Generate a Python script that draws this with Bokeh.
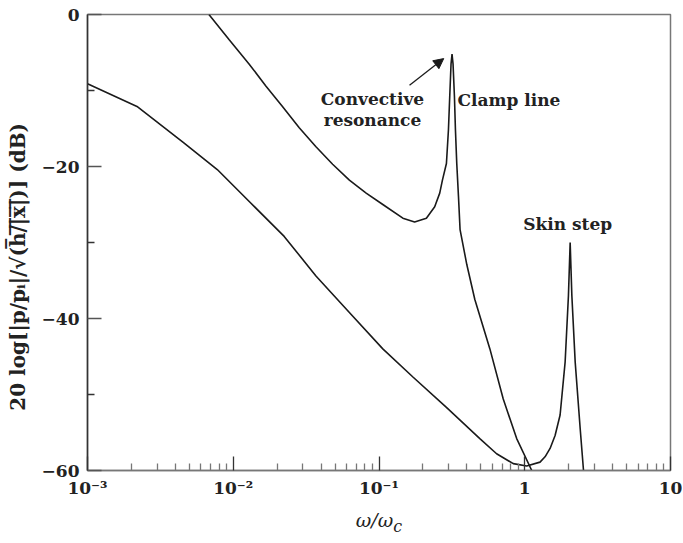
from bokeh.plotting import figure
from bokeh.models import FixedTicker, Label, Arrow, NormalHead, Range1d, Div
from bokeh.layouts import column
from bokeh.embed import file_html
from bokeh.resources import INLINE

# Lower curve ("Skin step")
skin_x = [0.001, 0.002185, 0.004581, 0.007768, 0.01318, 0.02236, 0.03694, 0.06262, 0.1062,
          0.1709, 0.2901, 0.4918, 0.6410, 0.8340, 1.031, 1.273, 1.378, 1.492, 1.615, 1.748,
          1.893, 1.994, 2.049, 2.105, 2.218, 2.401, 2.530]
skin_y = [-9.1, -12.1, -16.9, -20.4, -24.8, -29.2, -34.4, -39.2, -44.0,
          -47.7, -51.7, -55.8, -57.8, -59.1, -59.4, -58.9, -58.2, -57.1, -55.4, -52.7,
          -45.7, -37.0, -30.0, -37.0, -45.7, -54.5, -60.0]

# Upper curve ("Clamp line")
clamp_x = [0.00681, 0.00935, 0.01283, 0.01673, 0.02176, 0.02836, 0.03694, 0.04807, 0.06262,
           0.08163, 0.1062, 0.1458, 0.1755, 0.2114,
           0.2411, 0.2610, 0.2724, 0.2901, 0.2995, 0.3057, 0.3121, 0.3170, 0.3221, 0.3293,
           0.3346, 0.3416, 0.3509, 0.3599, 0.4003, 0.4545, 0.5766, 0.7120, 0.8805, 1.117]
clamp_y = [0.0, -3.3, -6.5, -9.4, -12.1, -14.9, -17.4, -19.7, -21.8,
           -23.5, -25.0, -26.8, -27.3, -26.8,
           -25.3, -23.5, -21.8, -19.6, -15.2, -10.8, -6.5, -5.2, -6.5, -10.8,
           -15.2, -19.6, -23.9, -28.3, -32.9, -37.5, -44.0, -50.6, -55.8, -60.0]

x_ticks = [1e-3, 1e-2, 1e-1, 1, 10]
x_tick_labels = {1e-3: "10\u207b\u00b3", 1e-2: "10\u207b\u00b2", 1e-1: "10\u207b\u00b9", 1: "1", 10: "10"}
x_minor = [k * 10.0 ** d for d in (-3, -2, -1, 0) for k in range(2, 10)]
y_ticks = [-60, -40, -20, 0]
y_tick_labels = {-60: "\u221260", -40: "\u221240", -20: "\u221220", 0: "0"}
y_minor = [-50, -30, -10]

FONT = "DejaVu Serif"
TXT = "#222222"

p = figure(width=682, height=500, x_axis_type="log", output_backend="svg",
           toolbar_location=None, x_range=Range1d(1e-3, 10), y_range=Range1d(-60, 0),
           min_border_left=87, min_border_right=12, min_border_top=14, min_border_bottom=28)
p.grid.visible = False
p.outline_line_color = "#777777"
p.outline_line_width = 1.5
p.background_fill_color = "white"
p.border_fill_color = "white"

p.line(skin_x, skin_y, line_color="#1a1a1a", line_width=1.6)
p.line(clamp_x, clamp_y, line_color="#1a1a1a", line_width=1.6)

xa = p.xaxis[0]
xa.ticker = FixedTicker(ticks=x_ticks, minor_ticks=x_minor)
xa.major_label_overrides = x_tick_labels
xa.major_tick_in = 14
xa.major_tick_out = 0
xa.minor_tick_in = 7
xa.minor_tick_out = 0
xa.axis_line_color = "#777777"
xa.axis_line_width = 1.5
xa.major_tick_line_color = "#333333"
xa.minor_tick_line_color = "#777777"
xa.major_tick_line_width = 1.3
xa.minor_tick_line_width = 1.3
xa.major_label_text_font = FONT
xa.major_label_text_font_style = "bold"
xa.major_label_text_font_size = "17px"
xa.major_label_text_color = TXT
xa.major_label_standoff = 7

ya = p.yaxis[0]
ya.ticker = FixedTicker(ticks=y_ticks, minor_ticks=y_minor)
ya.major_label_overrides = y_tick_labels
ya.major_tick_in = 14
ya.major_tick_out = 0
ya.minor_tick_in = 7
ya.minor_tick_out = 0
ya.axis_line_color = "#333333"
ya.axis_line_width = 1.5
ya.major_tick_line_color = "#555555"
ya.minor_tick_line_color = "#333333"
ya.major_tick_line_width = 1.3
ya.minor_tick_line_width = 1.3
ya.major_label_text_font = FONT
ya.major_label_text_font_style = "bold"
ya.major_label_text_font_size = "17px"
ya.major_label_text_color = TXT
ya.major_label_standoff = 8
ya.axis_label = ("20 log[|p/p\u1d62|/\u221a(h\u0305/\u0305|\u0305x\u0305|\u0305)] (dB)"
                 + "\u00a0" * 7)
ya.axis_label_text_font = FONT
ya.axis_label_text_font_style = "bold"
ya.axis_label_text_font_size = "20px"
ya.axis_label_text_color = TXT
ya.axis_label_standoff = 9

ann = dict(text_font=FONT, text_font_style="bold", text_font_size="17px",
           text_color=TXT, text_align="center", text_baseline="middle")
p.add_layout(Label(x=0.0902, y=-11.1, text="Convective", **ann))
p.add_layout(Label(x=0.0902, y=-13.9, text="resonance", **ann))
p.add_layout(Label(x=0.779, y=-11.3, text="Clamp line", **ann))
p.add_layout(Label(x=1.969, y=-27.6, text="Skin step", **ann))

p.add_layout(Arrow(end=NormalHead(size=10, fill_color="#1a1a1a", line_color="#1a1a1a"),
                   x_start=0.162, y_start=-9.3, x_end=0.278, y_end=-5.8,
                   line_color="#1a1a1a", line_width=1.3))

xlabel = Div(text="<i>\u03c9/\u03c9<sub>c</sub></i>", width=300, height=40,
             margin=(0, 0, 0, 229),
             styles={"text-align": "center", "font-family": "DejaVu Serif",
                     "font-size": "19px", "color": TXT, "padding-top": "7px"})

layout = column(p, xlabel, spacing=0)
open("out.html", "w").write(file_html(layout, INLINE))
